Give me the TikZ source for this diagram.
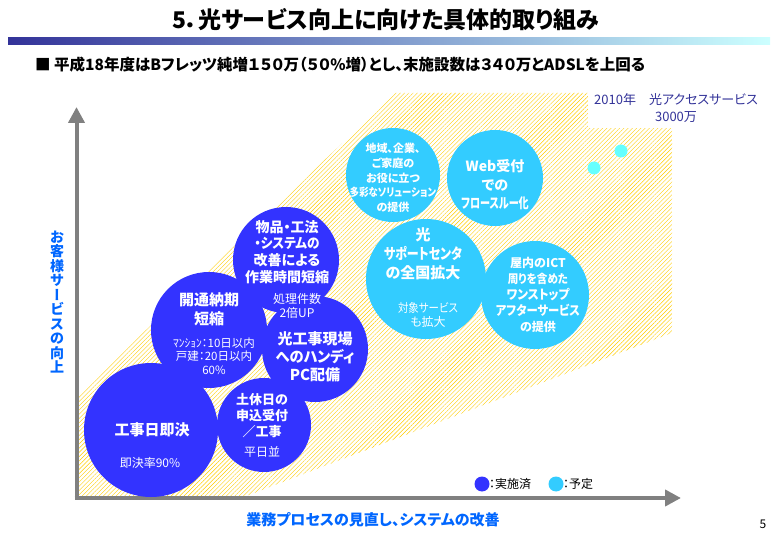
\documentclass[tikz,border=0pt]{standalone}
\usepackage{fontspec}
\setmainfont{Noto Sans CJK JP}[RawFeature={+palt}]
\usepackage{graphicx}
\usetikzlibrary{patterns.meta,arrows.meta}
\definecolor{dk}{HTML}{3333FF}
\definecolor{lt}{HTML}{33CCFF}
\definecolor{dot}{HTML}{66FFFF}
\definecolor{axlab}{HTML}{0066FF}
\definecolor{boxtxt}{HTML}{333399}
\definecolor{axgray}{HTML}{808080}
\definecolor{hatch}{HTML}{FFCC00}
\definecolor{barL}{HTML}{333399}
\definecolor{barR}{HTML}{CCFFFF}
\newcommand\sqz[2][0.8]{\scalebox{#1}[1]{#2}}
\tikzset{
  dkc/.style={circle,fill=dk,inner sep=0pt,minimum size=#1},
  ltc/.style={circle,fill=lt,inner sep=0pt,minimum size=#1},
  dotc/.style={circle,fill=dot,inner sep=0pt,minimum size=13pt},
  bw/.style={text=white,align=center,inner sep=0pt,font=\bfseries\fontsize{#1}{#1}\selectfont},
  nw/.style={text=white,align=center,inner sep=0pt,font=\fontsize{#1}{#1}\selectfont},
  axis/.style={draw=axgray,line width=4pt,-{Triangle[width=16pt,length=16pt]}},
  axlabel/.style={text=axlab,inner sep=0pt,font=\bfseries\fontsize{15}{15}\selectfont},
}
\begin{document}
\begin{tikzpicture}[x=1pt,y=-1pt]
\useasboundingbox (0,0) rectangle (780,540);
% title
\node[inner sep=0pt,font=\bfseries\fontsize{23}{23}\selectfont] (title) at (386,20) {5．光サービス向上に向けた具体的取り組み};
\shade[left color=barL,right color=barR] (8,38) rectangle (770,45);
\node[anchor=west,inner sep=0pt,font=\bfseries\fontsize{15.5}{15.5}\selectfont] (sub) at (35,65) {■ 平成18年度はBフレッツ純増１５０万（５０\%増）とし、末施設数は３４０万とADSLを上回る};
% hatched area
\fill[pattern={Lines[angle=45,distance=3pt,line width=0.4pt]},pattern color=hatch]
  (78,498) -- (78,395) -- (395,93) -- (672,93) -- (672,333) -- (241,498) -- cycle;
\fill[white] (588,84) rectangle (700,128);
\node[text=boxtxt,align=center,inner sep=0pt,font=\fontsize{13}{17}\selectfont] (goal) at (676,108) {2010年　光アクセスサービス\\3000万};
% axes
\coordinate (o) at (76.5,498);
\coordinate (ytip) at (76.5,107);
\coordinate (xtip) at (681,498);
\draw[axis] ([yshift=2pt]o) -- (ytip);
\draw[axis] ([xshift=-2pt]o) -- (xtip);
% dark circles
\node[dkc=134pt] (c1) at (151,430) {};
\node[dkc=116pt] (c2) at (209,330) {};
\node[dkc=106pt] (c3) at (286,260) {};
\node[dkc=106pt] (c4) at (315,349) {};
\node[dkc=94pt] (c5) at (264,425) {};
% light circles
\node[ltc=94pt] (c6) at (393,175) {};
\node[ltc=96pt] (c7) at (495,178) {};
\node[ltc=120pt] (c8) at (426,279) {};
\node[ltc=108pt] (c9) at (535,295) {};
\node[dotc] (d1) at (621,151) {};
\node[dotc] (d2) at (594,168) {};
% texts in circles
\node[bw=15] (t1) at (152,430) {工事日即決};
\node[nw=12] (t1b) at (150,463) {即決率90\%};
\node[bw=15,font=\bfseries\fontsize{15}{19}\selectfont] (t2) at (209,309) {開通納期\\短縮};
\node[nw=12,font=\fontsize{11.5}{13.5}\selectfont] (t2b) at (214,356) {ﾏﾝｼｮﾝ：10日以内\\戸建：20日以内\\60\%};
\node[bw=14,font=\bfseries\fontsize{14}{16.7}\selectfont] (t3) at (287,252) {物品・工法\\\sqz[0.9]{・システムの}\\改善による\\作業時間短縮};
\node[nw=12,font=\fontsize{12}{14}\selectfont] (t3b) at (297,306) {処理件数\\2倍UP};
\node[bw=15,font=\bfseries\fontsize{15}{18}\selectfont] (t4) at (315,357) {光工事現場\\\sqz[0.95]{へのハンディ}\\PC配備};
\node[bw=13,font=\bfseries\fontsize{13}{16}\selectfont] (t5) at (262,416) {土休日の\\申込受付\\／工事};
\node[nw=12] (t5b) at (262,452) {平日並};
\node[bw=11,font=\bfseries\fontsize{11}{14.7}\selectfont] (t6) at (393,178) {地域、企業、\\ご家庭の\\お役に立つ\\\sqz[0.85]{多彩なソリューション}\\の提供};
\node[bw=14,font=\bfseries\fontsize{14}{18.5}\selectfont] (t7) at (495,185) {Web受付\\での\\\sqz[0.72]{フロースルー化}};
\node[bw=15,font=\bfseries\fontsize{15}{19}\selectfont] (t8) at (423,254) {光\\\sqz[0.8]{サポートセンタ}\\の全国拡大};
\node[nw=12,font=\fontsize{12}{14}\selectfont] (t8b) at (428,315) {\sqz[0.87]{対象サービス}\\も拡大};
\node[bw=13,font=\bfseries\fontsize{13}{16}\selectfont] (t9) at (538,295) {{\fontsize{12}{16}\selectfont 屋内のICT}\\{\fontsize{12}{16}\selectfont\sqz[0.88]{周りを含めた}}\\\sqz[0.9]{ワンストップ}\\\sqz[0.87]{アフターサービス}\\{\fontsize{12}{16}\selectfont の提供}};
% axis labels
\node[axlabel,align=center,font=\bfseries\fontsize{14}{14.5}\selectfont] (ylab) at (57,302) {お\\客\\様\\サ\\{\addfontfeature{RawFeature=+vert}ー}\\ビ\\ス\\の\\向\\上};
\node[axlabel] (xlab) at (373,520) {業務プロセスの見直し、システムの改善};
% legend
\node[dkc=15pt] (l1) at (482,484) {};
\node[anchor=west,inner sep=0pt,font=\fontsize{12}{12}\selectfont] (l1t) at (489,484) {：実施済};
\node[ltc=15pt] (l2) at (556,484) {};
\node[anchor=west,inner sep=0pt,font=\fontsize{12}{12}\selectfont] (l2t) at (563,484) {：予定};
\node[inner sep=0pt,font=\fontsize{12}{12}\selectfont] (pg) at (763,524) {5};
\end{tikzpicture}
\end{document}
